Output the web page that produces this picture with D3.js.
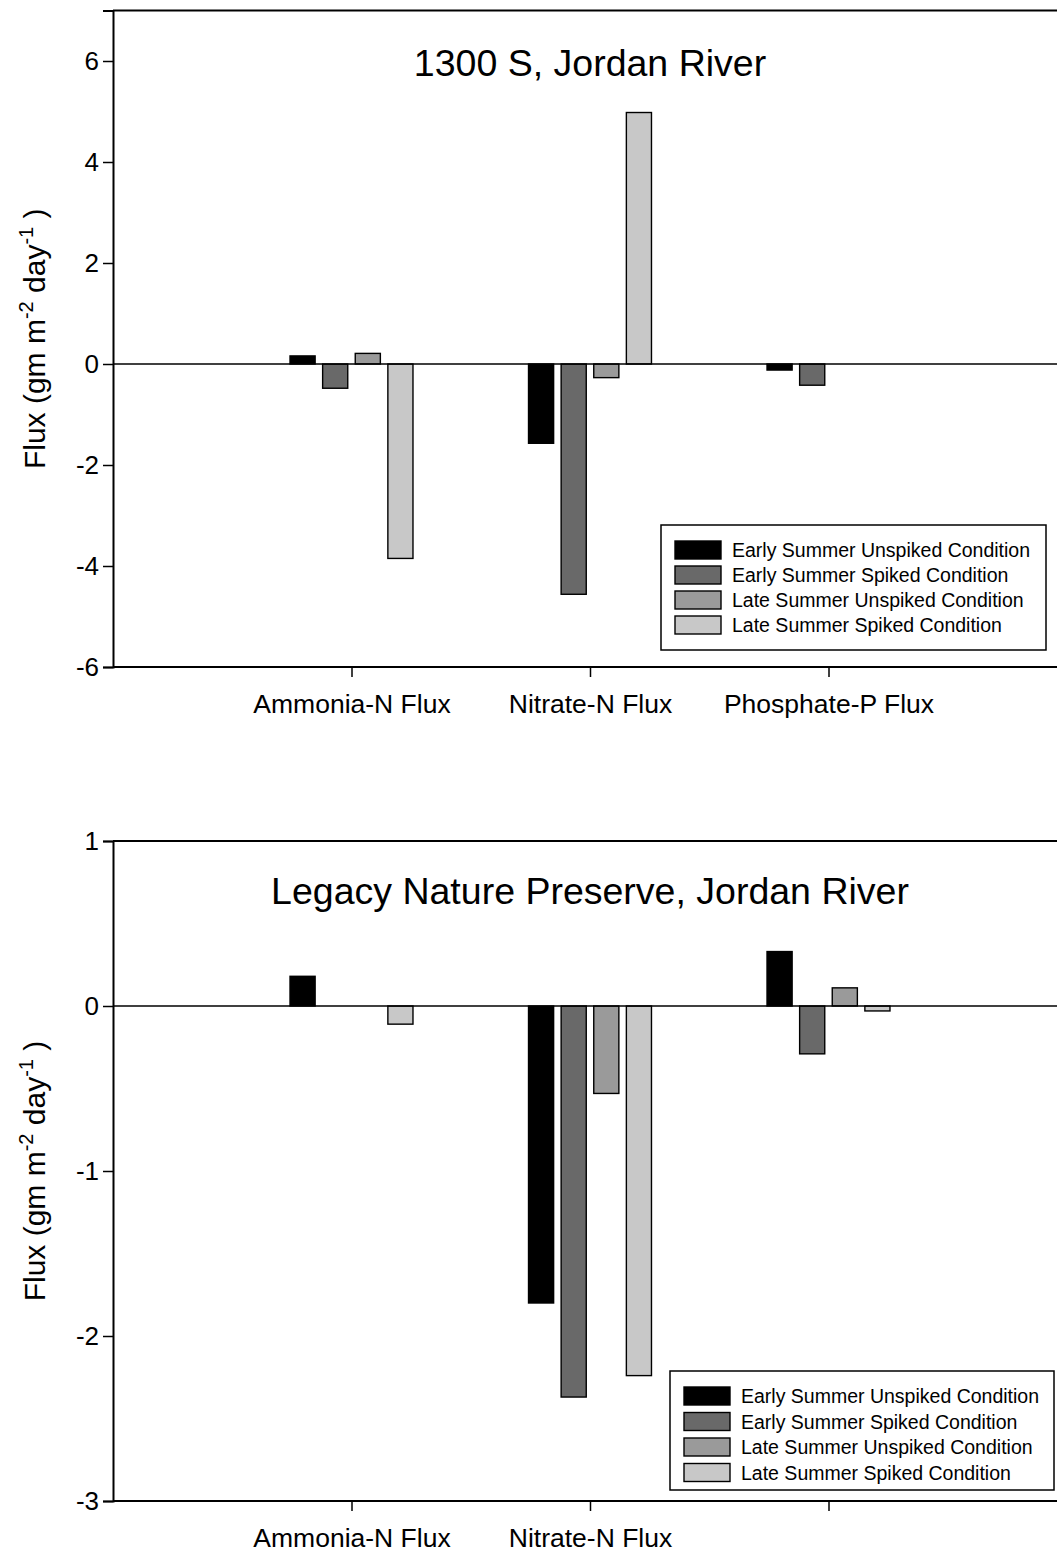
<!DOCTYPE html>
<html>
<head>
<meta charset="utf-8">
<script src="https://cdn.jsdelivr.net/npm/d3@7"></script>
<style>
  html, body { margin: 0; padding: 0; background: #fff; }
  svg { display: block; font-family: Arial, 'Liberation Sans', sans-serif; }
</style>
</head>
<body>
<div id="chart"></div>
<script>
// Series (legend order)
const seriesNames = [
  'Early Summer Unspiked Condition',
  'Early Summer Spiked Condition',
  'Late Summer Unspiked Condition',
  'Late Summer Spiked Condition',
];
const seriesColors = ['#000000', '#696969', '#9a9a9a', '#c8c8c8'];

// Panel 1: 1300 S, Jordan River
const topTitle = '1300 S, Jordan River';
const topCategories = ['Ammonia-N Flux', 'Nitrate-N Flux', 'Phosphate-P Flux'];
const topYTicks = [-6, -4, -2, 0, 2, 4, 6];
const topEarlyUnspiked = [0.16, -1.57, -0.12];
const topEarlySpiked = [-0.48, -4.56, -0.42];
const topLateUnspiked = [0.21, -0.27, 0];
const topLateSpiked = [-3.85, 4.98, 0];

// Panel 2: Legacy Nature Preserve, Jordan River
const bottomTitle = 'Legacy Nature Preserve, Jordan River';
const bottomCategories = ['Ammonia-N Flux', 'Nitrate-N Flux', ''];
const bottomYTicks = [-3, -2, -1, 0, 1];
const bottomEarlyUnspiked = [0.18, -1.8, 0.33];
const bottomEarlySpiked = [0, -2.37, -0.29];
const bottomLateUnspiked = [0, -0.53, 0.11];
const bottomLateSpiked = [-0.11, -2.24, -0.03];

const W = 1057, H = 1560;
const svg = d3.select('#chart').append('svg').attr('width', W).attr('height', H);

const drawPanel = (opts) => {
  const { top, bottom, domain, ticks, categories, values, title, titleY, legend } = opts;
  const left = 113;
  const g = svg.append('g');

  const x = d3.scaleLinear().domain([0, 4]).range([left, 1067]);
  const y = d3.scaleLinear().domain(domain).range([bottom, top]);
  const unit = x(1) - x(0);
  // bars within a group
  const xs = d3.scaleBand()
    .domain(d3.range(seriesNames.length))
    .range([-0.2735 * unit, 0.2735 * unit])
    .paddingInner(0.23)
    .paddingOuter(0.115);

  // bars
  const rows = [];
  categories.forEach((c, ci) => {
    values.forEach((vals, si) => {
      if (vals[ci] !== 0) rows.push({ ci, si, v: vals[ci] });
    });
  });
  g.selectAll('.bar')
    .data(rows)
    .enter()
    .append('rect')
    .attr('class', 'bar')
    .attr('x', (d) => x(d.ci + 1) + xs(d.si))
    .attr('width', xs.bandwidth())
    .attr('y', (d) => Math.min(y(d.v), y(0)))
    .attr('height', (d) => Math.abs(y(d.v) - y(0)))
    .attr('fill', (d) => seriesColors[d.si])
    .attr('stroke', '#000')
    .attr('stroke-width', 1.4);

  // zero line
  g.append('line')
    .attr('x1', left).attr('x2', W)
    .attr('y1', y(0)).attr('y2', y(0))
    .attr('stroke', '#000').attr('stroke-width', 1.5);

  // top frame line
  g.append('line')
    .attr('x1', left).attr('x2', W)
    .attr('y1', top).attr('y2', top)
    .attr('stroke', '#000').attr('stroke-width', 2);

  // y axis
  const yAxis = g.append('g')
    .attr('transform', `translate(${left},0)`)
    .call(d3.axisLeft(y).tickValues(ticks).tickSize(10).tickPadding(4).tickFormat(d3.format('d')));
  yAxis.select('.domain').attr('stroke-width', 2);
  yAxis.selectAll('.tick line').attr('stroke-width', 1.5);
  yAxis.selectAll('text').style('font-size', '26px').attr('fill', '#000')
    .text((d) => (d < 0 ? '-' + Math.abs(d) : d));

  // x axis
  const xAxis = g.append('g')
    .attr('transform', `translate(0,${bottom})`)
    .call(d3.axisBottom(x).tickValues([1, 2, 3]).tickSize(10).tickPadding(17)
      .tickFormat((d) => categories[d - 1]));
  xAxis.select('.domain').attr('stroke-width', 2).attr('d', `M${left},0H${W}`);
  xAxis.selectAll('.tick line').attr('stroke-width', 1.5);
  xAxis.selectAll('text').style('font-size', '26.5px').attr('fill', '#000');

  // y axis title
  const yLab = g.append('text')
    .attr('transform', `translate(45,${(top + bottom) / 2}) rotate(-90)`)
    .attr('text-anchor', 'middle')
    .style('font-size', '30px');
  yLab.append('tspan').text('Flux (gm m');
  yLab.append('tspan').attr('dy', -12).style('font-size', '20px').text('-2');
  yLab.append('tspan').attr('dy', 12).text(' day');
  yLab.append('tspan').attr('dy', -12).style('font-size', '20px').text('-1');
  yLab.append('tspan').attr('dy', 12).text(' )');

  // title
  g.append('text')
    .attr('x', 590).attr('y', titleY)
    .attr('text-anchor', 'middle')
    .style('font-size', '37.5px')
    .text(title);

  // legend
  const lg = g.append('g').attr('transform', `translate(${legend.x},${legend.y})`);
  lg.append('rect')
    .attr('width', legend.w).attr('height', legend.h)
    .attr('fill', '#fff').attr('stroke', '#000').attr('stroke-width', 1.5);
  const item = lg.selectAll('.item')
    .data(seriesNames)
    .enter()
    .append('g')
    .attr('transform', (d, i) => `translate(14,${legend.first + i * legend.step})`);
  item.append('rect')
    .attr('width', 46).attr('height', 18)
    .attr('fill', (d, i) => seriesColors[i])
    .attr('stroke', '#000').attr('stroke-width', 1.4);
  item.append('text')
    .attr('x', 57).attr('y', 16)
    .style('font-size', '19.5px')
    .text((d) => d);
};

drawPanel({
  top: 10.5, bottom: 667, domain: [-6, 7], ticks: topYTicks,
  categories: topCategories,
  values: [topEarlyUnspiked, topEarlySpiked, topLateUnspiked, topLateSpiked],
  title: topTitle, titleY: 76,
  legend: { x: 661, y: 525, w: 385, h: 125, first: 16, step: 25 },
});

drawPanel({
  top: 841, bottom: 1501, domain: [-3, 1], ticks: bottomYTicks,
  categories: bottomCategories,
  values: [bottomEarlyUnspiked, bottomEarlySpiked, bottomLateUnspiked, bottomLateSpiked],
  title: bottomTitle, titleY: 904,
  legend: { x: 670, y: 1371, w: 384, h: 119, first: 16, step: 25.5 },
});
</script>
</body>
</html>
